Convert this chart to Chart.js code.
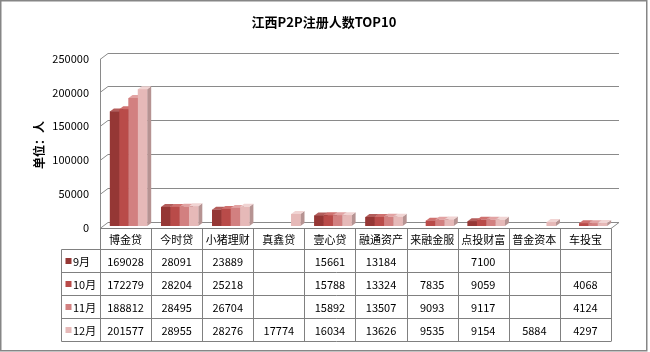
<!DOCTYPE html>
<html>
<head>
<meta charset="utf-8">
<script src="https://cdn.jsdelivr.net/npm/chart.js@4.4.0/dist/chart.umd.min.js"></script>
<style>
    html, body { margin: 0; padding: 0; background: #fff; }
    #wrap { width: 650px; height: 352px; }
</style>
</head>
<body>
<div id="wrap"><canvas id="chart" width="650" height="352"></canvas></div>
<script>
// Data
const chartTitle = '江西P2P注册人数TOP10';
const yTitle = '单位：人';
const platforms = ['博金贷', '今时贷', '小猪理财', '真鑫贷', '壹心贷', '融通资产', '来融金服', '点投财富', '普金资本', '车投宝'];
const months = ['9月', '10月', '11月', '12月'];
const sep = [169028, 28091, 23889, null, 15661, 13184, null, 7100, null, null];
const oct = [172279, 28204, 25218, null, 15788, 13324, 7835, 9059, null, 4068];
const nov = [188812, 28495, 26704, null, 15892, 13507, 9093, 9117, null, 4124];
const dec = [201577, 28955, 28276, 17774, 16034, 13626, 9535, 9154, 5884, 4297];
const yTicks = [0, 50000, 100000, 150000, 200000, 250000];

// Colours: front, top and side faces of the 3D bars
const frontColors = ['#953735', '#b94b49', '#d28080', '#e6b9b8'];
const topColors = ['#b35d5b', '#cf716f', '#e2a3a3', '#f1d4d3'];
const sideColors = ['#6f2927', '#8b3836', '#a76262', '#b69392'];

const FONT = '"Noto Sans CJK SC", "Noto Sans", sans-serif';
const GRID = '#8a8a8a';
const DEPTH_X = 8, DEPTH_Y = 6;   // back wall / floor depth
const BAR_DX = 4, BAR_DY = 3;     // bar top/side faces
const SHIFT_X = 3, SHIFT_Y = 2;   // bars sit halfway into the floor

function poly(ctx, pts) {
    ctx.beginPath();
    ctx.moveTo(pts[0][0], pts[0][1]);
    for (let i = 1; i < pts.length; i++) ctx.lineTo(pts[i][0], pts[i][1]);
    ctx.closePath();
    ctx.fill();
}

// Back wall gridlines, floor and axis, plus the 3D faces of the bars
const wallPlugin = {
    id: 'wall',
    beforeDatasetsDraw(chart) {
        const { ctx, chartArea: a, scales: { y } } = chart;
        ctx.save();
        ctx.strokeStyle = GRID;
        ctx.lineWidth = 1;
        yTicks.forEach(v => {
            const py = Math.round(y.getPixelForValue(v)) + 0.5;
            ctx.beginPath();
            ctx.moveTo(a.left, py);
            ctx.lineTo(a.left + DEPTH_X, py - DEPTH_Y);
            ctx.lineTo(a.right + DEPTH_X, py - DEPTH_Y);
            ctx.stroke();
        });
        // floor right edge
        const by = Math.round(y.getPixelForValue(0)) + 0.5;
        ctx.beginPath();
        ctx.moveTo(a.right, by);
        ctx.lineTo(a.right + DEPTH_X, by - DEPTH_Y);
        ctx.stroke();
        // left axis line
        ctx.beginPath();
        ctx.moveTo(a.left + 0.5, Math.round(y.getPixelForValue(250000)));
        ctx.lineTo(a.left + 0.5, by);
        ctx.stroke();
        ctx.restore();

        ctx.save();
        ctx.translate(SHIFT_X, -SHIFT_Y);
    },
    afterDatasetsDraw(chart) {
        const ctx = chart.ctx;
        for (let i = 0; i < platforms.length; i++) {
            chart.data.datasets.forEach((ds, di) => {
                const el = chart.getDatasetMeta(di).data[i];
                if (!el || ds.data[i] == null) return;
                const { x, y, base, width } = el.getProps(['x', 'y', 'base', 'width'], true);
                const l = x - width / 2, r = x + width / 2;
                ctx.fillStyle = sideColors[di];
                poly(ctx, [[r, y], [r + BAR_DX, y - BAR_DY], [r + BAR_DX, base - BAR_DY], [r, base]]);
                ctx.fillStyle = topColors[di];
                poly(ctx, [[l, y], [l + BAR_DX, y - BAR_DY], [r + BAR_DX, y - BAR_DY], [r, y]]);
                ctx.fillStyle = frontColors[di];
                ctx.fillRect(l, y, width, base - y);
            });
        }
        ctx.restore();
    }
};

// Titles, data table under the plot and the outer frame
const tablePlugin = {
    id: 'dataTable',
    afterDraw(chart) {
        const { ctx, chartArea: a, scales: { x } } = chart;

        ctx.save();
        ctx.fillStyle = '#000';
        ctx.font = 'bold 13px ' + FONT;
        ctx.textAlign = 'center';
        ctx.textBaseline = 'middle';
        ctx.fillText(chartTitle, chart.width / 2 - 1, 22);
        ctx.font = 'bold 12px ' + FONT;
        ctx.translate(39, 145);
        ctx.rotate(-Math.PI / 2);
        ctx.fillText(yTitle, 0, 0);
        ctx.restore();

        const colW = x.getPixelForValue(1) - x.getPixelForValue(0);
        const legendLeft = Math.round(a.left - 39) + 0.5;
        const top = Math.round(a.bottom) + 0.5;
        const headerBottom = top + 21;
        const rowH = 22.9;
        const rows = [headerBottom];
        for (let r = 1; r <= months.length; r++) rows.push(Math.round(headerBottom + r * rowH) + 0.5);
        const bottom = rows[rows.length - 1];
        const datasets = chart.data.datasets;

        ctx.save();
        ctx.strokeStyle = '#808080';
        ctx.lineWidth = 1;
        ctx.beginPath();
        ctx.moveTo(a.left, top);
        ctx.lineTo(a.right, top);
        rows.forEach(ry => {
            ctx.moveTo(legendLeft, ry);
            ctx.lineTo(a.right, ry);
        });
        for (let c = 0; c <= platforms.length; c++) {
            const cx = Math.round(a.left + c * colW) + 0.5;
            ctx.moveTo(cx, top);
            ctx.lineTo(cx, bottom);
        }
        ctx.moveTo(legendLeft, headerBottom);
        ctx.lineTo(legendLeft, bottom);
        ctx.stroke();

        ctx.fillStyle = '#000';
        ctx.font = '11px ' + FONT;
        ctx.textAlign = 'center';
        ctx.textBaseline = 'middle';
        platforms.forEach((p, c) => {
            ctx.fillText(p, x.getPixelForValue(c), (top + headerBottom) / 2 + 1);
        });
        datasets.forEach((ds, r) => {
            const cy = (rows[r] + rows[r + 1]) / 2 + 1;
            ds.data.forEach((v, c) => {
                if (v == null) return;
                ctx.fillStyle = '#000';
                ctx.textAlign = 'center';
                ctx.fillText(String(v), x.getPixelForValue(c), cy);
            });
            ctx.fillStyle = frontColors[r];
            ctx.fillRect(legendLeft + 4, cy - 4, 6, 6);
            ctx.fillStyle = '#000';
            ctx.textAlign = 'left';
            ctx.fillText(ds.label, legendLeft + 11.5, cy);
        });
        ctx.restore();

        ctx.save();
        ctx.strokeStyle = '#868686';
        ctx.lineWidth = 1.5;
        ctx.strokeRect(0.75, 0.75, 646, 350);
        ctx.restore();
    }
};

const series = [sep, oct, nov, dec];

new Chart(document.getElementById('chart'), {
    type: 'bar',
    data: {
        labels: platforms,
        datasets: series.map((d, i) => ({
            label: months[i],
            data: d,
            backgroundColor: frontColors[i],
            borderWidth: 0,
            categoryPercentage: 0.73,
            barPercentage: 1
        }))
    },
    options: {
        responsive: false,
        animation: false,
        layout: { padding: { top: 58.5, left: 0, right: 39, bottom: 124 } },
        plugins: {
            legend: { display: false },
            tooltip: { enabled: false },
            title: { display: false }
        },
        scales: {
            x: { display: false },
            y: {
                min: 0,
                max: 250000,
                afterFit: s => { s.width = 100; },
                afterBuildTicks: s => { s.ticks = yTicks.map(v => ({ value: v })); },
                grid: { display: false, drawTicks: false },
                border: { display: false },
                ticks: {
                    color: '#000',
                    padding: 11,
                    font: { family: FONT, size: 11 },
                    callback: v => String(v)
                }
            }
        }
    },
    plugins: [wallPlugin, tablePlugin]
});
</script>
</body>
</html>
